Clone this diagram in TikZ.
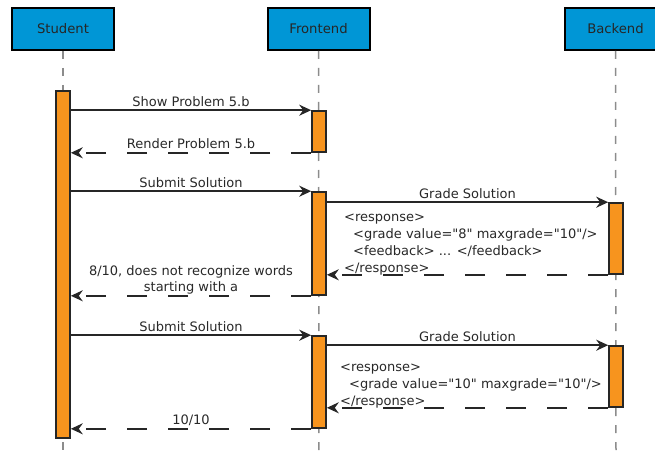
\documentclass[tikz,border=0pt]{standalone}
\usepackage{fontspec}
\setmainfont{DejaVu Sans}
\newfontfamily\dv{DejaVu Sans}
\usetikzlibrary{arrows.meta}
\definecolor{boxblue}{RGB}{0,150,214}
\definecolor{actorange}{RGB}{247,148,30}
\definecolor{txt}{RGB}{40,40,40}
\begin{document}
\begin{tikzpicture}[x=1pt,y=-1pt,
 actor/.style={draw=black, line width=2pt, fill=boxblue, minimum width=102pt, minimum height=42pt, inner sep=0pt, font=\dv\fontsize{13.2}{15}\selectfont, text=black!85},
 act/.style={draw=black!85, line width=1.6pt, fill=actorange, minimum width=14pt, inner sep=0pt},
 life/.style={draw=black!45, line width=1.5pt, dash pattern=on 8pt off 9pt},
 msg/.style={draw=black!85, line width=1.9pt, -{Stealth[length=12pt,width=11pt,inset=4pt]}},
 ret/.style={msg, dash pattern=on 20.5pt off 20.5pt},
 lbl/.style={font=\dv\fontsize{13}{17}\selectfont, text=txt, inner sep=0pt, anchor=base, yshift=4pt},
 lbltwo/.style={font=\dv\fontsize{13}{16.5}\selectfont, text=txt, inner sep=0pt, anchor=south, yshift=0.5pt, align=center},
 resp/.style={font=\dv\fontsize{13}{17}\selectfont, text=txt, inner sep=0pt, align=left, anchor=south west}
]
\useasboundingbox (0,0) rectangle (655,457);
\begin{scope}
\clip (0,0) rectangle (655,457);
\node[actor] (st) at (63,29) {Student};
\node[actor] (fe) at (318.5,29) {Frontend};
\node[actor] (be) at (615.5,29) {Backend};
\end{scope}
% lifelines
\coordinate (stend) at (63,457);
\coordinate (feend) at (319,457);
\coordinate (beend) at (616,457);
\draw[life] (st.south) -- (stend);
\draw[life] (fe.south) -- (feend);
\draw[life] (be.south) -- (beend);
% activations
\node[act, minimum height=347pt] (sa) at (63,264.5) {};
\node[act, minimum height=41pt] (f1) at (319,131.5) {};
\node[act, minimum height=103pt] (f2) at (319,243.5) {};
\node[act, minimum height=92pt] (f3) at (319,382) {};
\node[act, minimum height=71pt] (b1) at (616,238.5) {};
\node[act, minimum height=61pt] (b2) at (616,376.5) {};
% messages
\draw[msg] (sa.east |- f1.north) -- node[lbl]{Show Problem 5.b} (f1.north west);
\draw[ret] (f1.south west) -- node[lbl]{Render Problem 5.b} (sa.east |- f1.south);
\draw[msg] (sa.east |- f2.north) -- node[lbl]{Submit Solution} (f2.north west);
\draw[msg] (f2.east |- b1.north) -- node[lbl]{Grade Solution} (b1.north west);
\draw[ret] (b1.south west) -- (f2.east |- b1.south);
\node[resp] (r1) at (344,275) {<response>\\
\hspace*{9pt}<grade value="8" maxgrade="10"/>\\
\hspace*{9pt}<feedback> ... </feedback>\\
</response>};
\draw[ret] (f2.south west) -- node[lbltwo]{8/10, does not recognize words\\starting with a} (sa.east |- f2.south);
\draw[msg] (sa.east |- f3.north) -- node[lbl]{Submit Solution} (f3.north west);
\draw[msg] (f3.east |- b2.north) -- node[lbl]{Grade Solution} (b2.north west);
\draw[ret] (b2.south west) -- (f3.east |- b2.south);
\node[resp] (r2) at (340,408) {<response>\\
\hspace*{9pt}<grade value="10" maxgrade="10"/>\\
</response>};
\draw[ret] (f3.south west) -- node[lbl]{10/10} (sa.east |- f3.south);
\end{tikzpicture}
\end{document}
